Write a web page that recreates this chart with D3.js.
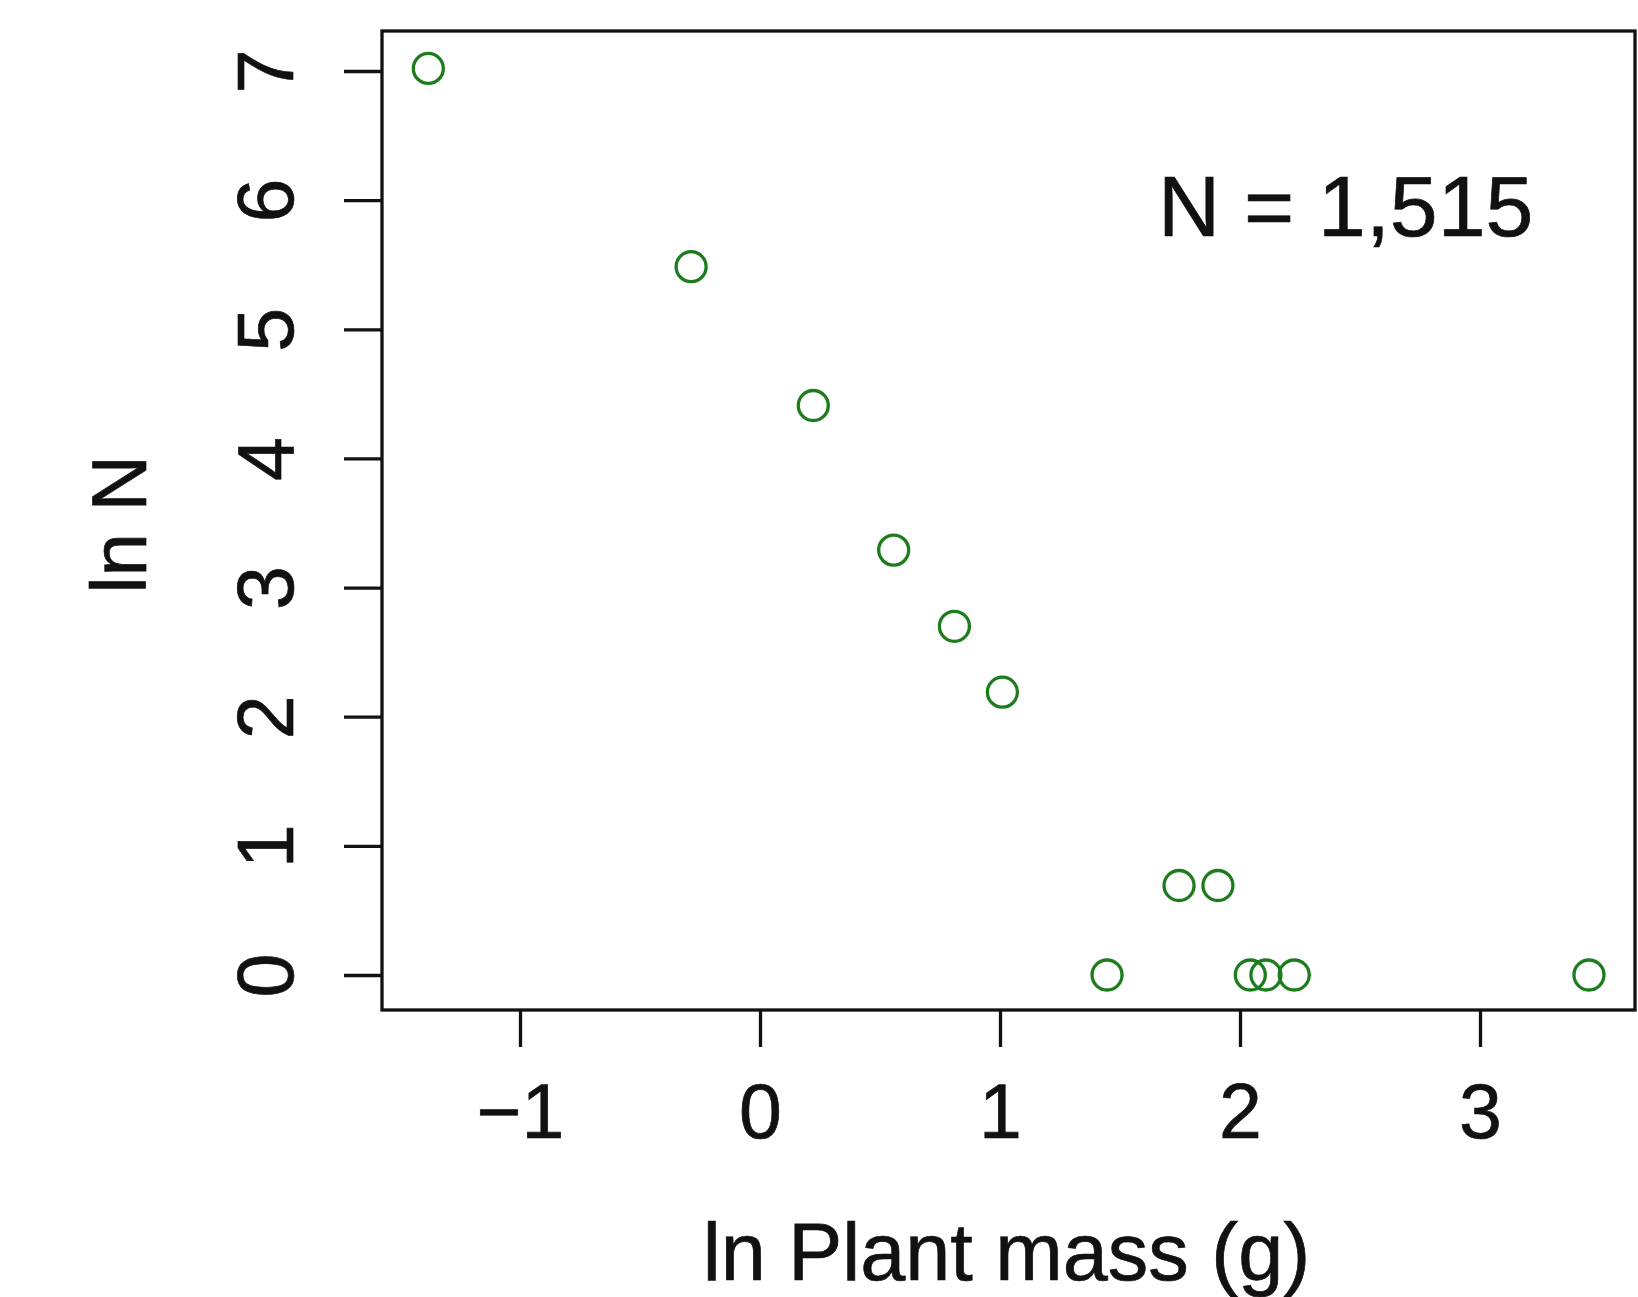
<!DOCTYPE html>
<html>
<head>
<meta charset="utf-8">
<script src="https://cdn.jsdelivr.net/npm/d3@7"></script>
<style>
  html, body { margin: 0; padding: 0; background: #fff; }
  svg { display: block; }
  text { font-family: "Liberation Sans", Arial, Helvetica, sans-serif; fill: #111; stroke: #111; stroke-width: 0.7px; }
</style>
</head>
<body>
<svg id="chart" width="1638" height="1297"></svg>
<script>
// ---- data ----
const lnMass = [-1.382, -0.287, 0.222, 0.557, 0.810, 1.010, 1.746, 1.908, 1.446, 2.043, 2.108, 2.226, 3.454];
const lnN    = [7.02, 5.485, 4.41, 3.29, 2.70, 2.19, 0.693, 0.693, 0, 0, 0, 0, 0];
const xTicks = [-1, 0, 1, 2, 3];
const yTicks = [0, 1, 2, 3, 4, 5, 6, 7];
const xTitle = "ln Plant mass (g)";
const yTitle = "ln N";
const annotation = "N = 1,515";

// ---- layout ----
const box = { left: 382, top: 31, right: 1635, bottom: 1010 };
const svg = d3.select("#chart");

const x = d3.scaleLinear().domain([-1, 3]).range([520, 1480]);
const y = d3.scaleLinear().domain([0, 7]).range([975, 71]);

const ink = "#111";
const green = "#1d7d1d";

// x axis
const xAxis = d3.axisBottom(x).tickValues(xTicks).tickSize(37).tickSizeOuter(0)
  .tickFormat(d => d < 0 ? "\u2212" + Math.abs(d) : String(d));
const gx = svg.append("g").attr("transform", `translate(0,${box.bottom})`).call(xAxis);
gx.select(".domain").remove();
gx.selectAll(".tick line").attr("stroke", ink).attr("stroke-width", 3.3);
gx.selectAll(".tick text")
  .attr("y", 128).attr("dy", 0)
  .attr("font-size", 77).attr("fill", ink)
  .attr("text-anchor", "middle");

// y axis
const yAxis = d3.axisLeft(y).tickValues(yTicks).tickSize(38).tickSizeOuter(0)
  .tickFormat(d => String(d));
const gy = svg.append("g").attr("transform", `translate(${box.left},0)`).call(yAxis);
gy.select(".domain").remove();
gy.selectAll(".tick line").attr("stroke", ink).attr("stroke-width", 3.3);
gy.selectAll(".tick text")
  .attr("x", 0).attr("y", -89).attr("dy", 0)
  .attr("transform", "rotate(-90)")
  .attr("font-size", 79).attr("fill", ink)
  .attr("text-anchor", "middle");

// plot box
svg.append("rect")
  .attr("x", box.left).attr("y", box.top)
  .attr("width", box.right - box.left).attr("height", box.bottom - box.top)
  .attr("fill", "none").attr("stroke", ink).attr("stroke-width", 3.3);

// points
svg.append("g").selectAll("circle")
  .data(lnMass.map((m, i) => ({ m, n: lnN[i] })))
  .join("circle")
  .attr("cx", d => x(d.m)).attr("cy", d => y(d.n)).attr("r", 15)
  .attr("fill", "none").attr("stroke", green).attr("stroke-width", 3.3);

// titles
svg.append("text")
  .attr("x", (box.left + box.right) / 2 - 2).attr("y", 1280)
  .attr("text-anchor", "middle").attr("font-size", 81)
  .text(xTitle);

svg.append("text")
  .attr("transform", `translate(146,${(box.top + box.bottom) / 2 + 4}) rotate(-90)`)
  .attr("text-anchor", "middle").attr("font-size", 78)
  .text(yTitle);

// annotation
svg.append("text")
  .attr("x", 1158).attr("y", 236)
  .attr("text-anchor", "start").attr("font-size", 86)
  .text(annotation);
</script>
</body>
</html>
